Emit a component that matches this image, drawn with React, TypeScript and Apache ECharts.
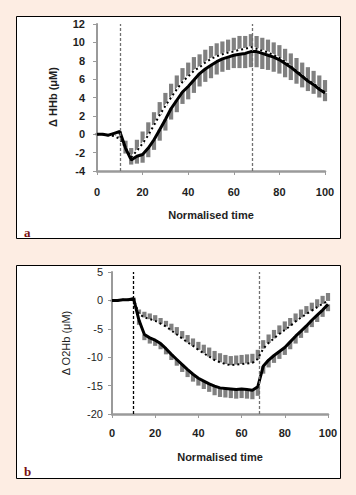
import React, { useEffect, useRef } from "react";
import * as echarts from "echarts";

// Normalised time (shared by both panels)
const TIME = [0, 2.5, 5, 7.5, 10, 12.5, 15, 17.5, 20, 22.5, 25, 27.5, 30, 32.5, 35, 37.5, 40, 42.5, 45, 47.5, 50, 52.5, 55, 57.5, 60, 62.5, 65, 67.5, 70, 72.5, 75, 77.5, 80, 82.5, 85, 87.5, 90, 92.5, 95, 97.5, 100];

// Event markers (vertical dashed lines)
const EVENTS = [10, 68];

// Panel a: Δ HHb (μM)
const HHB_SOLID = [0, 0, -0.1, 0.1, 0.3, -1.5, -2.8, -2.4, -2.2, -1.5, -0.6, 0.5, 1.6, 2.8, 3.7, 4.6, 5.2, 5.9, 6.6, 7.1, 7.5, 7.9, 8.2, 8.4, 8.6, 8.7, 8.8, 9.0, 9.0, 8.8, 8.6, 8.4, 8.1, 7.7, 7.3, 6.8, 6.3, 5.8, 5.4, 4.9, 4.5];
const HHB_SOLID_SD = [0.1, 0.1, 0.1, 0.1, 0.3, 0.6, 0.5, 0.8, 0.9, 1.0, 1.1, 1.2, 1.2, 1.2, 1.3, 1.3, 1.4, 1.4, 1.4, 1.4, 1.4, 1.4, 1.4, 1.4, 1.4, 1.5, 1.6, 1.7, 1.7, 1.7, 1.6, 1.6, 1.5, 1.5, 1.4, 1.3, 1.2, 1.1, 1.0, 0.9, 0.9];
const HHB_DOTTED = [0, 0, -0.1, -0.2, -0.5, -1.5, -2.5, -1.8, -1.0, -0.1, 1.0, 2.1, 3.1, 4.0, 4.9, 5.7, 6.3, 6.9, 7.3, 7.8, 8.2, 8.5, 8.7, 8.9, 9.0, 9.2, 9.3, 9.5, 9.3, 9.1, 8.9, 8.6, 8.3, 7.9, 7.4, 6.9, 6.4, 5.9, 5.5, 5.0, 4.6];
const HHB_DOTTED_SD = [0.1, 0.1, 0.1, 0.1, 0.3, 0.8, 1.0, 1.2, 1.3, 1.4, 1.4, 1.4, 1.4, 1.5, 1.5, 1.5, 1.5, 1.5, 1.4, 1.4, 1.4, 1.4, 1.4, 1.4, 1.5, 1.5, 1.4, 1.4, 1.4, 1.4, 1.4, 1.4, 1.4, 1.4, 1.4, 1.4, 1.4, 1.4, 1.4, 1.4, 1.3];

// Panel b: Δ O2Hb (μM)
const O2HB_SOLID = [0, 0, 0.1, 0.1, 0.3, -3.5, -6.0, -6.6, -7.0, -7.6, -8.5, -9.5, -10.4, -11.3, -12.2, -13.0, -13.7, -14.2, -14.7, -15.1, -15.4, -15.5, -15.6, -15.7, -15.6, -15.7, -15.8, -15.2, -11.6, -10.5, -9.7, -9.0, -8.3, -7.3, -6.3, -5.4, -4.5, -3.5, -2.6, -1.7, -0.7];
const O2HB_SOLID_SD = [0.1, 0.1, 0.1, 0.1, 0.3, 0.8, 1.0, 1.0, 1.0, 1.0, 1.0, 1.0, 1.1, 1.3, 1.3, 1.3, 1.3, 1.4, 1.4, 1.6, 1.6, 1.6, 1.6, 1.6, 1.6, 1.6, 1.6, 1.6, 1.3, 1.3, 1.3, 1.3, 1.3, 1.3, 1.3, 1.2, 1.2, 1.2, 1.2, 1.2, 1.2];
const O2HB_DOTTED = [0, 0, 0.1, 0.1, 0.2, -2.4, -3.0, -3.3, -3.6, -4.1, -4.6, -5.3, -6.0, -6.7, -7.4, -8.0, -8.7, -9.3, -9.9, -10.5, -10.9, -11.2, -11.4, -11.3, -11.2, -11.1, -11.0, -10.3, -8.5, -7.5, -6.7, -5.9, -5.2, -4.5, -3.7, -3.0, -2.4, -1.8, -1.2, -0.6, -0.1];
const O2HB_DOTTED_SD = [0.1, 0.1, 0.1, 0.1, 0.3, 0.8, 1.0, 1.0, 1.0, 1.0, 1.0, 1.2, 1.3, 1.3, 1.3, 1.3, 1.4, 1.5, 1.6, 1.6, 1.6, 1.6, 1.6, 1.6, 1.6, 1.6, 1.6, 1.6, 1.5, 1.5, 1.5, 1.5, 1.5, 1.4, 1.4, 1.4, 1.4, 1.4, 1.4, 1.4, 1.4];

const X_TICKS = { min: 0, max: 100, interval: 20 };
const Y_A = { min: -4, max: 12, interval: 2 };
const Y_B = { min: -20, max: 5, interval: 5 };

const FONT = "Liberation Sans, Arial, sans-serif";
const BAR_GREY = "#808080";
const AXIS_GREY = "#9a9a9a";

function errBars(name: string, axis: number, lo: number[], hi: number[]) {
  return {
    name,
    type: "custom",
    xAxisIndex: axis,
    yAxisIndex: axis,
    encode: { x: 0, y: [1, 2] },
    silent: true,
    data: TIME.map((t, i) => [t, lo[i], hi[i]]),
    renderItem: (_p: any, api: any) => {
      const x = api.value(0);
      const a = api.coord([x, api.value(1)]);
      const b = api.coord([x, api.value(2)]);
      const w = 4.2;
      return {
        type: "rect",
        shape: { x: a[0] - w / 2, y: Math.min(a[1], b[1]), width: w, height: Math.max(1, Math.abs(b[1] - a[1])) },
        style: { fill: BAR_GREY },
      };
    },
  };
}

function line(name: string, axis: number, vals: number[], style: any, extra: any = {}) {
  return {
    name,
    type: "line",
    xAxisIndex: axis,
    yAxisIndex: axis,
    data: TIME.map((t, i) => [t, vals[i]]),
    showSymbol: false,
    symbol: "none",
    silent: true,
    lineStyle: style,
    ...extra,
  };
}

function eventLines(colors: string[]) {
  return {
    silent: true,
    symbol: ["none", "none"],
    label: { show: false },
    data: EVENTS.map((e, i) => ({
      xAxis: e,
      lineStyle: { color: colors[i], type: [3, 2], width: 1.3 },
    })),
  };
}

function xAxis(gridIndex: number, margin: number) {
  return {
    type: "value",
    gridIndex,
    ...X_TICKS,
    axisLine: { show: true, onZero: false, lineStyle: { color: AXIS_GREY, width: 2.5 } },
    axisTick: { show: true, length: 4, lineStyle: { color: AXIS_GREY, width: 1 } },
    splitLine: { show: false },
    axisLabel: { color: "#1e1e1e", fontFamily: FONT, fontSize: 11, fontWeight: "bold", margin },
  };
}

function yAxis(gridIndex: number, range: any, bold: boolean, margin: number) {
  return {
    type: "value",
    gridIndex,
    ...range,
    axisLine: { show: true, onZero: false, lineStyle: { color: AXIS_GREY, width: 2 } },
    axisTick: { show: true, length: 4, lineStyle: { color: AXIS_GREY, width: 1 } },
    splitLine: { show: false },
    axisLabel: { color: "#1e1e1e", fontFamily: FONT, fontSize: 11, fontWeight: bold ? "bold" : "normal", margin },
  };
}

export default function App() {
  const ref = useRef<HTMLDivElement>(null);
  useEffect(() => {
    if (!ref.current) return;
    const chart = echarts.init(ref.current, undefined, { renderer: "svg" });
    chart.setOption({
      animation: false,
      backgroundColor: "#fdede3",
      graphic: [
        { type: "rect", z: -10, shape: { x: 16.5, y: 16.5, width: 324, height: 222 }, style: { fill: "#ffffff", stroke: "#000", lineWidth: 1 } },
        { type: "rect", z: -10, shape: { x: 16.5, y: 265.5, width: 324, height: 213 }, style: { fill: "#ffffff", stroke: "#000", lineWidth: 1 } },
        { type: "text", x: 53, y: 97, rotation: Math.PI / 2, style: { text: "Δ HHb (μM)", font: `bold 11px ${FONT}`, fill: "#1e1e1e", align: "center", verticalAlign: "middle" } },
        { type: "text", x: 211, y: 215, style: { text: "Normalised time", font: `bold 11px ${FONT}`, fill: "#1e1e1e", align: "center", verticalAlign: "middle" } },
        { type: "text", x: 24, y: 232, style: { text: "a", font: "bold 13px Liberation Serif, DejaVu Serif, serif", fill: "#7a1212", align: "left", verticalAlign: "middle" } },
        { type: "text", x: 66, y: 343, rotation: Math.PI / 2, style: { text: "Δ O2Hb (μM)", font: `11px ${FONT}`, fill: "#1e1e1e", align: "center", verticalAlign: "middle" } },
        { type: "text", x: 220, y: 457, style: { text: "Normalised time", font: `bold 11px ${FONT}`, fill: "#1e1e1e", align: "center", verticalAlign: "middle" } },
        { type: "text", x: 24, y: 471, style: { text: "b", font: "bold 13px Liberation Serif, DejaVu Serif, serif", fill: "#7a1212", align: "left", verticalAlign: "middle" } },
      ],
      grid: [
        { left: 97, top: 24, width: 228, height: 147 },
        { left: 112, top: 272, width: 216, height: 142 },
      ],
      xAxis: [xAxis(0, 15), xAxis(1, 13)],
      yAxis: [yAxis(0, Y_A, true, 12), yAxis(1, Y_B, false, 9)],
      series: [
        errBars("HHb dotted SD", 0, HHB_DOTTED, HHB_DOTTED.map((v, i) => v + HHB_DOTTED_SD[i])),
        errBars("HHb solid SD", 0, HHB_SOLID.map((v, i) => v - HHB_SOLID_SD[i]), HHB_SOLID),
        line("HHb dotted base", 0, HHB_DOTTED, { color: "#ffffff", width: 2 }),
        line("HHb dotted", 0, HHB_DOTTED, { color: "#000000", width: 2, type: [2, 3] }),
        line("HHb solid", 0, HHB_SOLID, { color: "#000000", width: 3 }, { markLine: eventLines(["#707070", "#707070"]) }),
        errBars("O2Hb dotted SD", 1, O2HB_DOTTED, O2HB_DOTTED.map((v, i) => v + O2HB_DOTTED_SD[i])),
        errBars("O2Hb solid SD", 1, O2HB_SOLID.map((v, i) => v - O2HB_SOLID_SD[i]), O2HB_SOLID),
        line("O2Hb dotted", 1, O2HB_DOTTED, { color: "#000000", width: 2, type: [2, 3] }),
        line("O2Hb solid", 1, O2HB_SOLID, { color: "#000000", width: 3 }, { markLine: eventLines(["#000000", "#707070"]) }),
      ],
    });
    return () => chart.dispose();
  }, []);
  return <div ref={ref} style={{ position: "fixed", left: 0, top: 0, width: 356, height: 495 }} />;
}
